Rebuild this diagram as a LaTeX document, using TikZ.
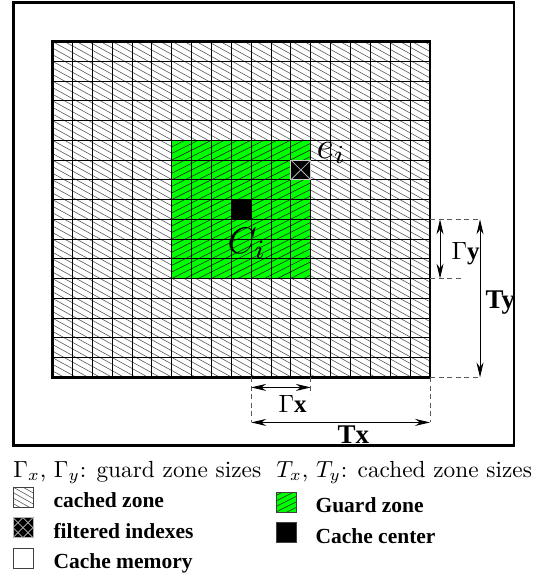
\RequirePackage{fix-cm}
\documentclass[tikz,border=0pt]{standalone}
\usepackage{amsmath}
\usepackage{fontspec}
\newfontfamily\timesfont{Liberation Serif}
\usetikzlibrary{arrows.meta, positioning, calc}

\begin{document}
\begin{tikzpicture}[
    x=1pt, y=-1pt,
    gridline/.style={draw=black, line width=0.9pt},
    hatchline/.style={draw=gray!70!black, line width=0.6pt},
    guardline/.style={draw=black!85, line width=0.6pt},
    dimline/.style={draw=gray!70!black, line width=0.9pt, dash pattern=on 5pt off 3.5pt},
    dimarrow/.style={{Stealth[length=15pt,width=7pt]}-{Stealth[length=15pt,width=7pt]}, line width=0.9pt},
    mathlabel/.style={anchor=base west, inner sep=0pt, font=\fontsize{10}{12}\selectfont, scale=3.7, transform shape},
    dimlabel/.style={anchor=base west, inner sep=0pt, font=\fontsize{10}{12}\selectfont\timesfont\bfseries, scale=2.5, transform shape},
    legendtext/.style={anchor=base west, inner sep=0pt, font=\fontsize{10}{12}\selectfont, scale=2.33, transform shape},
    legendlabel/.style={anchor=base west, inner sep=0pt, font=\fontsize{21.5}{25}\selectfont\timesfont\bfseries},
    legendbox/.style={draw=black!75, line width=0.7pt, minimum width=20pt, minimum height=20pt, inner sep=0pt},
    hatchdown/.style={path picture={\foreach \k in {-4,...,5} \draw[hatchline] ($(path picture bounding box.north west)+(0,\k*5.5)$) -- ++(30,17);}},
    hatchup/.style={path picture={\foreach \k in {-4,...,5} \draw[guardline] ($(path picture bounding box.south west)+(0,-\k*5.5)$) -- ++(30,-15);}},
    crossbox/.style={path picture={\foreach \k in {-2,...,2} {
        \draw[gray!55, line width=0.7pt] ($(path picture bounding box.north west)+(\k*10,0)$) -- ++(20,20);
        \draw[gray!55, line width=0.7pt] ($(path picture bounding box.south west)+(\k*10,0)$) -- ++(20,-20);}}}
]
\useasboundingbox (0,0) rectangle (534,573);

% Cache memory
\coordinate (memNW) at (13.5,2.5);
\coordinate (memSE) at (514,445.5);

% Cached zone, one unit = one cell
\begin{scope}[shift={(52.5,41.5)}, x=19.87pt, y=-19.76pt]
  \coordinate (zoneNW) at (0,0);
  \coordinate (zoneSE) at (19,17);
  \coordinate (guardNW) at (6,5);
  \coordinate (guardSE) at (13,12);
  \coordinate (ctrNW) at (9,8);
  \coordinate (ctrSE) at (10,9);
  \coordinate (filtNW) at (12,6);
  \coordinate (filtSE) at (13,7);
  \begin{scope}
    \clip (zoneNW) rectangle (zoneSE);
    \foreach \k in {-33,...,52} \draw[hatchline] (0,\k/3) -- ++(400pt,-220pt);
  \end{scope}
  % Guard zone
  \fill[green] (guardNW) rectangle (guardSE);
  \begin{scope}
    \clip (guardNW) rectangle (guardSE);
    \foreach \k in {15,...,48} \draw[guardline] (6,\k/3) -- ++(200pt,100pt);
  \end{scope}
  \foreach \i in {1,...,18} \draw[gridline] (\i,0) -- (\i,17);
  \foreach \j in {1,...,16} \draw[gridline] (0,\j) -- (19,\j);
  % Cache center and filtered index
  \fill[black] (ctrNW) rectangle (ctrSE);
  \filldraw[fill=black, draw=gray!40, line width=0.9pt] (filtNW) rectangle (filtSE);
  \draw[gray!60, line width=0.8pt] (filtNW) -- (filtSE) (12,7) -- (13,6);
  \draw[line width=2.6pt] (zoneNW) rectangle (zoneSE);
\end{scope}
\draw[line width=2.6pt] (memNW) rectangle (memSE);

\node[mathlabel] (ei) at (316,158) {$e_i$};
\node[mathlabel] (Ci) at (227,253) {$C_i$};

% Sizes
\draw[dimline] (zoneSE |- ctrSE) -- ++(50,0);
\draw[dimline] (zoneSE |- guardSE) -- ++(33,0);
\draw[dimline] (zoneSE) -- ++(50,0);
\draw[dimline] (zoneSE -| ctrSE) -- ++(0,45);
\draw[dimline] (zoneSE -| guardSE) -- ++(0,17);
\draw[dimline] (zoneSE) -- ++(0,45);
\draw[dimarrow] ($(zoneSE |- ctrSE)+(10,0)$) -- ($(zoneSE |- guardSE)+(10,0)$);
\draw[dimarrow] ($(zoneSE |- ctrSE)+(50,0)$) -- ($(zoneSE)+(50,0)$);
\draw[dimarrow] ($(zoneSE -| ctrSE)+(0,10)$) -- ($(zoneSE -| guardSE)+(0,10)$);
\draw[dimarrow] ($(zoneSE -| ctrSE)+(0,45)$) -- ($(zoneSE)+(0,45)$);
\node[dimlabel] (gy) at (451,259) {$\Gamma$y};
\node[dimlabel, scale=1.08] (ty) at (485,308) {Ty};
\node[dimlabel] (gx) at (278,412) {$\Gamma$x};
\node[dimlabel, scale=1.08] (tx) at (337,443) {Tx};

% Legend
\node[legendtext] (guardsizes) at (13,477) {$\Gamma_x$, $\Gamma_y$: guard zone sizes};
\node[legendtext] (cachedsizes) at (276,477) {$T_x$, $T_y$: cached zone sizes};
\node[legendbox, hatchdown] (cachedbox) at (23,497) {};
\node[legendbox, fill=black, draw=gray!60, crossbox, below=10pt of cachedbox] (filtbox) {};
\node[legendbox, below=10pt of filtbox] (membox) {};
\node[legendbox, fill=green, hatchup] (guardbox) at (286,502) {};
\node[legendbox, fill=black, below=10pt of guardbox] (ctrbox) {};
\node[legendlabel, right=20pt of cachedbox.south east, anchor=base west] (cachedlbl) {cached zone};
\node[legendlabel, right=20pt of filtbox.south east, anchor=base west] (filtlbl) {filtered indexes};
\node[legendlabel, right=20pt of membox.south east, anchor=base west] (memlbl) {Cache memory};
\node[legendlabel, right=19pt of guardbox.south east, anchor=base west] (guardlbl) {Guard zone};
\node[legendlabel, right=19pt of ctrbox.south east, anchor=base west] (ctrlbl) {Cache center};

\end{tikzpicture}
\end{document}
